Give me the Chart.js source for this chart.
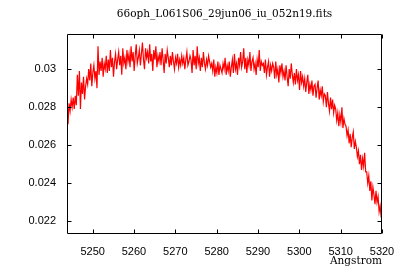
<!DOCTYPE html>
<html>
<head>
<meta charset="utf-8">
<script src="https://cdn.jsdelivr.net/npm/chart.js@4.4.1/dist/chart.umd.min.js"></script>
<style>
  html, body { margin: 0; padding: 0; background: #fff; }
</style>
</head>
<body>
<canvas id="spectrum" width="400" height="280"></canvas>
<script>
// wavelength grid of the spectrum (Angstrom): start + i * step
const wavelengthStart = 5243.8;
const wavelengthStep = 0.25;

// flux, one value per 0.25 A
const flux = [
  0.0287, 0.0271, 0.0282, 0.0278, 0.0284, 0.0280, 0.0285, 0.0279, 0.0286, 0.0281,
  0.0297, 0.0286, 0.0299, 0.0279, 0.0293, 0.0287, 0.0296, 0.0284, 0.0291, 0.0295,
  0.0292, 0.0300, 0.0294, 0.0303, 0.0291, 0.0298, 0.0302, 0.0295, 0.0299, 0.0290,
  0.0312, 0.0297, 0.0304, 0.0299, 0.0306, 0.0296, 0.0303, 0.0300, 0.0307, 0.0298,
  0.0305, 0.0299, 0.0310, 0.0301, 0.0306, 0.0296, 0.0304, 0.0308, 0.0300, 0.0305,
  0.0309, 0.0302, 0.0307, 0.0297, 0.0311, 0.0303, 0.0306, 0.0300, 0.0310, 0.0304,
  0.0308, 0.0301, 0.0312, 0.0304, 0.0309, 0.0299, 0.0307, 0.0313, 0.0303, 0.0306,
  0.0310, 0.0302, 0.0308, 0.0314, 0.0305, 0.0300, 0.0311, 0.0306, 0.0309, 0.0303,
  0.0313, 0.0304, 0.0308, 0.0299, 0.0310, 0.0305, 0.0312, 0.0301, 0.0307, 0.0304,
  0.0309, 0.0302, 0.0311, 0.0305, 0.0298, 0.0308, 0.0303, 0.0310, 0.0306, 0.0301,
  0.0307, 0.0302, 0.0309, 0.0304, 0.0300, 0.0306, 0.0303, 0.0308, 0.0301, 0.0305,
  0.0302, 0.0307, 0.0303, 0.0306, 0.0300, 0.0305, 0.0309, 0.0302, 0.0304, 0.0307,
  0.0305, 0.0298, 0.0310, 0.0302, 0.0307, 0.0300, 0.0312, 0.0303, 0.0306, 0.0299,
  0.0306, 0.0301, 0.0309, 0.0303, 0.0300, 0.0305, 0.0302, 0.0307, 0.0304, 0.0301,
  0.0303, 0.0299, 0.0305, 0.0296, 0.0301, 0.0298, 0.0304, 0.0297, 0.0302, 0.0300,
  0.0298, 0.0303, 0.0300, 0.0306, 0.0297, 0.0302, 0.0299, 0.0304, 0.0296, 0.0301,
  0.0305, 0.0298, 0.0308, 0.0300, 0.0303, 0.0297, 0.0306, 0.0302, 0.0309, 0.0301,
  0.0304, 0.0311, 0.0300, 0.0306, 0.0298, 0.0305, 0.0302, 0.0309, 0.0299, 0.0304,
  0.0306, 0.0300, 0.0303, 0.0297, 0.0305, 0.0301, 0.0310, 0.0299, 0.0304, 0.0302,
  0.0303, 0.0298, 0.0305, 0.0297, 0.0301, 0.0304, 0.0296, 0.0302, 0.0299, 0.0303,
  0.0301, 0.0295, 0.0304, 0.0297, 0.0300, 0.0293, 0.0302, 0.0298, 0.0303, 0.0296,
  0.0299, 0.0294, 0.0302, 0.0296, 0.0291, 0.0300, 0.0295, 0.0303, 0.0297, 0.0293,
  0.0298, 0.0292, 0.0300, 0.0294, 0.0297, 0.0289, 0.0299, 0.0293, 0.0296, 0.0291,
  0.0295, 0.0288, 0.0293, 0.0297, 0.0287, 0.0292, 0.0289, 0.0294, 0.0286, 0.0291,
  0.0292, 0.0285, 0.0290, 0.0294, 0.0284, 0.0289, 0.0286, 0.0291, 0.0283, 0.0287,
  0.0286, 0.0280, 0.0288, 0.0282, 0.0278, 0.0285, 0.0279, 0.0284, 0.0277, 0.0281,
  0.0279, 0.0273, 0.0277, 0.0270, 0.0276, 0.0272, 0.0280, 0.0269, 0.0274, 0.0271,
  0.0270, 0.0265, 0.0268, 0.0261, 0.0266, 0.0259, 0.0264, 0.0267, 0.0258, 0.0262,
  0.0259, 0.0254, 0.0257, 0.0250, 0.0255, 0.0247, 0.0253, 0.0249, 0.0256, 0.0246,
  0.0246, 0.0240, 0.0244, 0.0236, 0.0241, 0.0231, 0.0238, 0.0234, 0.0229, 0.0236,
  0.0230, 0.0233, 0.0225, 0.0228, 0.0222
];

const xTicks = [5250, 5260, 5270, 5280, 5290, 5300, 5310, 5320];
const yTicks = [0.022, 0.024, 0.026, 0.028, 0.03];

const points = flux.map((f, i) => ({ x: wavelengthStart + i * wavelengthStep, y: f }));

// gnuplot-ish box with inward ticks on all four sides
const framePlugin = {
  id: 'frame',
  afterDraw(chart) {
    const { ctx, chartArea: a, scales } = chart;
    const L = Math.round(a.left) + 0.5, R = Math.round(a.right) - 0.5;
    const T = Math.round(a.top) + 0.5, B = Math.round(a.bottom) - 0.5;
    ctx.save();
    ctx.strokeStyle = '#000';
    ctx.lineWidth = 1;
    ctx.beginPath();
    ctx.rect(L, T, R - L, B - T);
    scales.x.ticks.forEach(t => {
      const px = Math.round(scales.x.getPixelForValue(t.value)) + 0.5;
      ctx.moveTo(px, B); ctx.lineTo(px, B - 4);
      ctx.moveTo(px, T); ctx.lineTo(px, T + 4);
    });
    scales.y.ticks.forEach(t => {
      const py = Math.round(scales.y.getPixelForValue(t.value)) + 0.5;
      ctx.moveTo(L, py); ctx.lineTo(L + 4, py);
      ctx.moveTo(R, py); ctx.lineTo(R - 4, py);
    });
    ctx.stroke();
    ctx.restore();
  }
};

new Chart(document.getElementById('spectrum'), {
  type: 'line',
  data: {
    datasets: [{
      data: points,
      borderColor: '#ff0000',
      borderWidth: 1.2,
      pointRadius: 0,
      tension: 0,
      fill: false
    }]
  },
  options: {
    responsive: false,
    animation: false,
    layout: { autoPadding: false, padding: { left: 0, right: 18, top: 0, bottom: 0 } },
    plugins: {
      legend: { display: false },
      tooltip: { enabled: false },
      title: {
        display: true,
        text: '66oph_L061S06_29jun06_iu_052n19.fits',
        fullSize: false,
        color: '#000',
        font: { family: 'DejaVu Serif', size: 10.5, weight: 'normal' },
        padding: { top: 8, bottom: 13 }
      }
    },
    scales: {
      x: {
        type: 'linear',
        min: 5243.8,
        max: 5320,
        afterBuildTicks: s => { s.ticks = xTicks.map(v => ({ value: v })); },
        afterFit: s => { s.height = 46; s.paddingLeft = 0; s.paddingRight = 0; },
        grid: { display: false, drawTicks: false },
        border: { display: false },
        ticks: {
          padding: 11,
          color: '#000',
          font: { family: 'Liberation Sans', size: 11 },
          maxRotation: 0,
          callback: v => String(v)
        },
        title: {
          display: true,
          text: 'Angstrom',
          align: 'end',
          color: '#000',
          font: { family: 'DejaVu Serif', size: 10.5 },
          padding: { top: 0, bottom: 12 }
        }
      },
      y: {
        min: 0.021332,
        max: 0.031868,
        afterBuildTicks: s => { s.ticks = yTicks.map(v => ({ value: v })); },
        afterFit: s => { s.width = 67; s.paddingTop = 0; s.paddingBottom = 0; },
        grid: { display: false, drawTicks: false },
        border: { display: false },
        ticks: {
          padding: 11,
          color: '#000',
          font: { family: 'Liberation Sans', size: 11 },
          callback: v => String(+v.toFixed(4))
        }
      }
    }
  },
  plugins: [framePlugin]
});
</script>
</body>
</html>
